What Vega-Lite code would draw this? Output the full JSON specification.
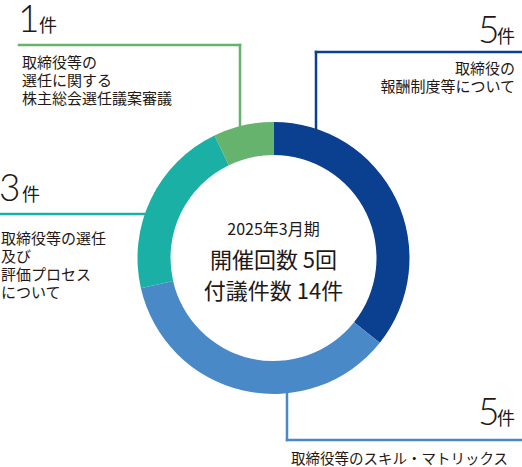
{
  "$schema": "https://vega.github.io/schema/vega-lite/v6.json",
  "width": 497,
  "height": 418,
  "autosize": "none",
  "padding": {"left": 25, "top": 49, "right": 0, "bottom": 0},
  "background": "white",
  "config": {
    "view": {"stroke": null},
    "font": "Noto Sans CJK JP",
    "text": {"font": "Noto Sans CJK JP", "color": "#231815"}
  },
  "datasets": {
    "topics": [
      {"topic": "報酬制度", "count": 5, "ord": 1, "nx": 478, "kx": 497, "ny": 43, "label": "取締役の\n報酬制度等について", "lx": 515, "ly": 74},
      {"topic": "スキル・マトリックス", "count": 5, "ord": 2, "nx": 478, "kx": 497, "ny": 425, "label": "取締役等のスキル・マトリックス", "lx": 291, "ly": 464},
      {"topic": "選任及び評価", "count": 3, "ord": 3, "nx": -1, "kx": 22, "ny": 201, "label": "取締役等の選任\n及び\n評価プロセス\nについて", "lx": 1, "ly": 244},
      {"topic": "株主総会選任議案", "count": 1, "ord": 4, "nx": 18, "kx": 39, "ny": 32, "label": "取締役等の\n選任に関する\n株主総会選任議案審議", "lx": 22, "ly": 68}
    ],
    "leaders": [
      {"topic": "報酬制度", "x": 316, "x2": 522, "y": 52, "y2": 52},
      {"topic": "報酬制度", "x": 316, "x2": 316, "y": 52, "y2": 140},
      {"topic": "スキル・マトリックス", "x": 287, "x2": 287, "y": 385, "y2": 440},
      {"topic": "スキル・マトリックス", "x": 287, "x2": 522, "y": 440, "y2": 440},
      {"topic": "選任及び評価", "x": 0, "x2": 150, "y": 214, "y2": 214},
      {"topic": "株主総会選任議案", "x": 19, "x2": 240, "y": 45, "y2": 45},
      {"topic": "株主総会選任議案", "x": 240, "x2": 240, "y": 45, "y2": 135}
    ]
  },
  "layer": [
    {
      "data": {"name": "leaders"},
      "mark": {"type": "rule", "strokeWidth": 2.5, "strokeCap": "square"},
      "encoding": {
        "x": {"field": "x", "type": "quantitative", "scale": {"domain": [25, 522], "nice": false, "zero": false}, "axis": null},
        "x2": {"field": "x2"},
        "y": {"field": "y", "type": "quantitative", "scale": {"domain": [49, 467], "reverse": true, "nice": false, "zero": false}, "axis": null},
        "y2": {"field": "y2"},
        "color": {
          "field": "topic",
          "type": "nominal",
          "scale": {
            "domain": ["報酬制度", "スキル・マトリックス", "選任及び評価", "株主総会選任議案"],
            "range": ["#0b3f8f", "#4a89c8", "#1bb0a5", "#66b36d"]
          },
          "legend": null
        }
      }
    },
    {
      "data": {"name": "topics"},
      "mark": {"type": "arc", "innerRadius": 103, "outerRadius": 136},
      "encoding": {
        "theta": {"field": "count", "type": "quantitative", "stack": true},
        "order": {"field": "ord"},
        "color": {"field": "topic", "type": "nominal", "legend": null}
      }
    },
    {
      "data": {"values": [{"t": "2025年3月期"}]},
      "mark": {"type": "text", "fontSize": 16, "baseline": "middle", "dy": -28},
      "encoding": {"text": {"field": "t"}}
    },
    {
      "data": {"values": [{"t": "開催回数 5回"}]},
      "mark": {"type": "text", "fontSize": 22, "baseline": "middle", "dy": 3},
      "encoding": {"text": {"field": "t"}}
    },
    {
      "data": {"values": [{"t": "付議件数 14件"}]},
      "mark": {"type": "text", "fontSize": 22, "baseline": "middle", "dy": 34},
      "encoding": {"text": {"field": "t"}}
    },
    {
      "data": {"name": "topics"},
      "mark": {"type": "text", "font": "Lato", "fontWeight": 300, "fontSize": 37, "align": "left", "baseline": "alphabetic"},
      "encoding": {
        "x": {"field": "nx", "type": "quantitative", "scale": {"domain": [25, 522], "nice": false, "zero": false}, "axis": null},
        "y": {"field": "ny", "type": "quantitative", "scale": {"domain": [49, 467], "reverse": true, "nice": false, "zero": false}, "axis": null},
        "text": {"field": "count", "type": "quantitative"}
      }
    },
    {
      "data": {"name": "topics"},
      "mark": {"type": "text", "fontSize": 18, "align": "left", "baseline": "alphabetic"},
      "encoding": {
        "x": {"field": "kx", "type": "quantitative", "scale": {"domain": [25, 522], "nice": false, "zero": false}, "axis": null},
        "y": {"field": "ny", "type": "quantitative", "scale": {"domain": [49, 467], "reverse": true, "nice": false, "zero": false}, "axis": null},
        "text": {"value": "件"}
      }
    },
    {
      "data": {"name": "topics"},
      "transform": [{"filter": "datum.topic !== '報酬制度' && datum.topic !== 'スキル・マトリックス'"}],
      "mark": {"type": "text", "fontSize": 15, "align": "left", "baseline": "alphabetic", "lineBreak": "\n", "lineHeight": 18},
      "encoding": {
        "x": {"field": "lx", "type": "quantitative", "scale": {"domain": [25, 522], "nice": false, "zero": false}, "axis": null},
        "y": {"field": "ly", "type": "quantitative", "scale": {"domain": [49, 467], "reverse": true, "nice": false, "zero": false}, "axis": null},
        "text": {"field": "label"}
      }
    },
    {
      "data": {"name": "topics"},
      "transform": [{"filter": "datum.topic === 'スキル・マトリックス'"}],
      "mark": {"type": "text", "fontSize": 14.5, "align": "left", "baseline": "alphabetic"},
      "encoding": {
        "x": {"field": "lx", "type": "quantitative", "scale": {"domain": [25, 522], "nice": false, "zero": false}, "axis": null},
        "y": {"field": "ly", "type": "quantitative", "scale": {"domain": [49, 467], "reverse": true, "nice": false, "zero": false}, "axis": null},
        "text": {"field": "label"}
      }
    },
    {
      "data": {"name": "topics"},
      "transform": [{"filter": "datum.topic === '報酬制度'"}],
      "mark": {"type": "text", "fontSize": 15, "align": "right", "baseline": "alphabetic", "lineBreak": "\n", "lineHeight": 18},
      "encoding": {
        "x": {"field": "lx", "type": "quantitative", "scale": {"domain": [25, 522], "nice": false, "zero": false}, "axis": null},
        "y": {"field": "ly", "type": "quantitative", "scale": {"domain": [49, 467], "reverse": true, "nice": false, "zero": false}, "axis": null},
        "text": {"field": "label"}
      }
    }
  ]
}
